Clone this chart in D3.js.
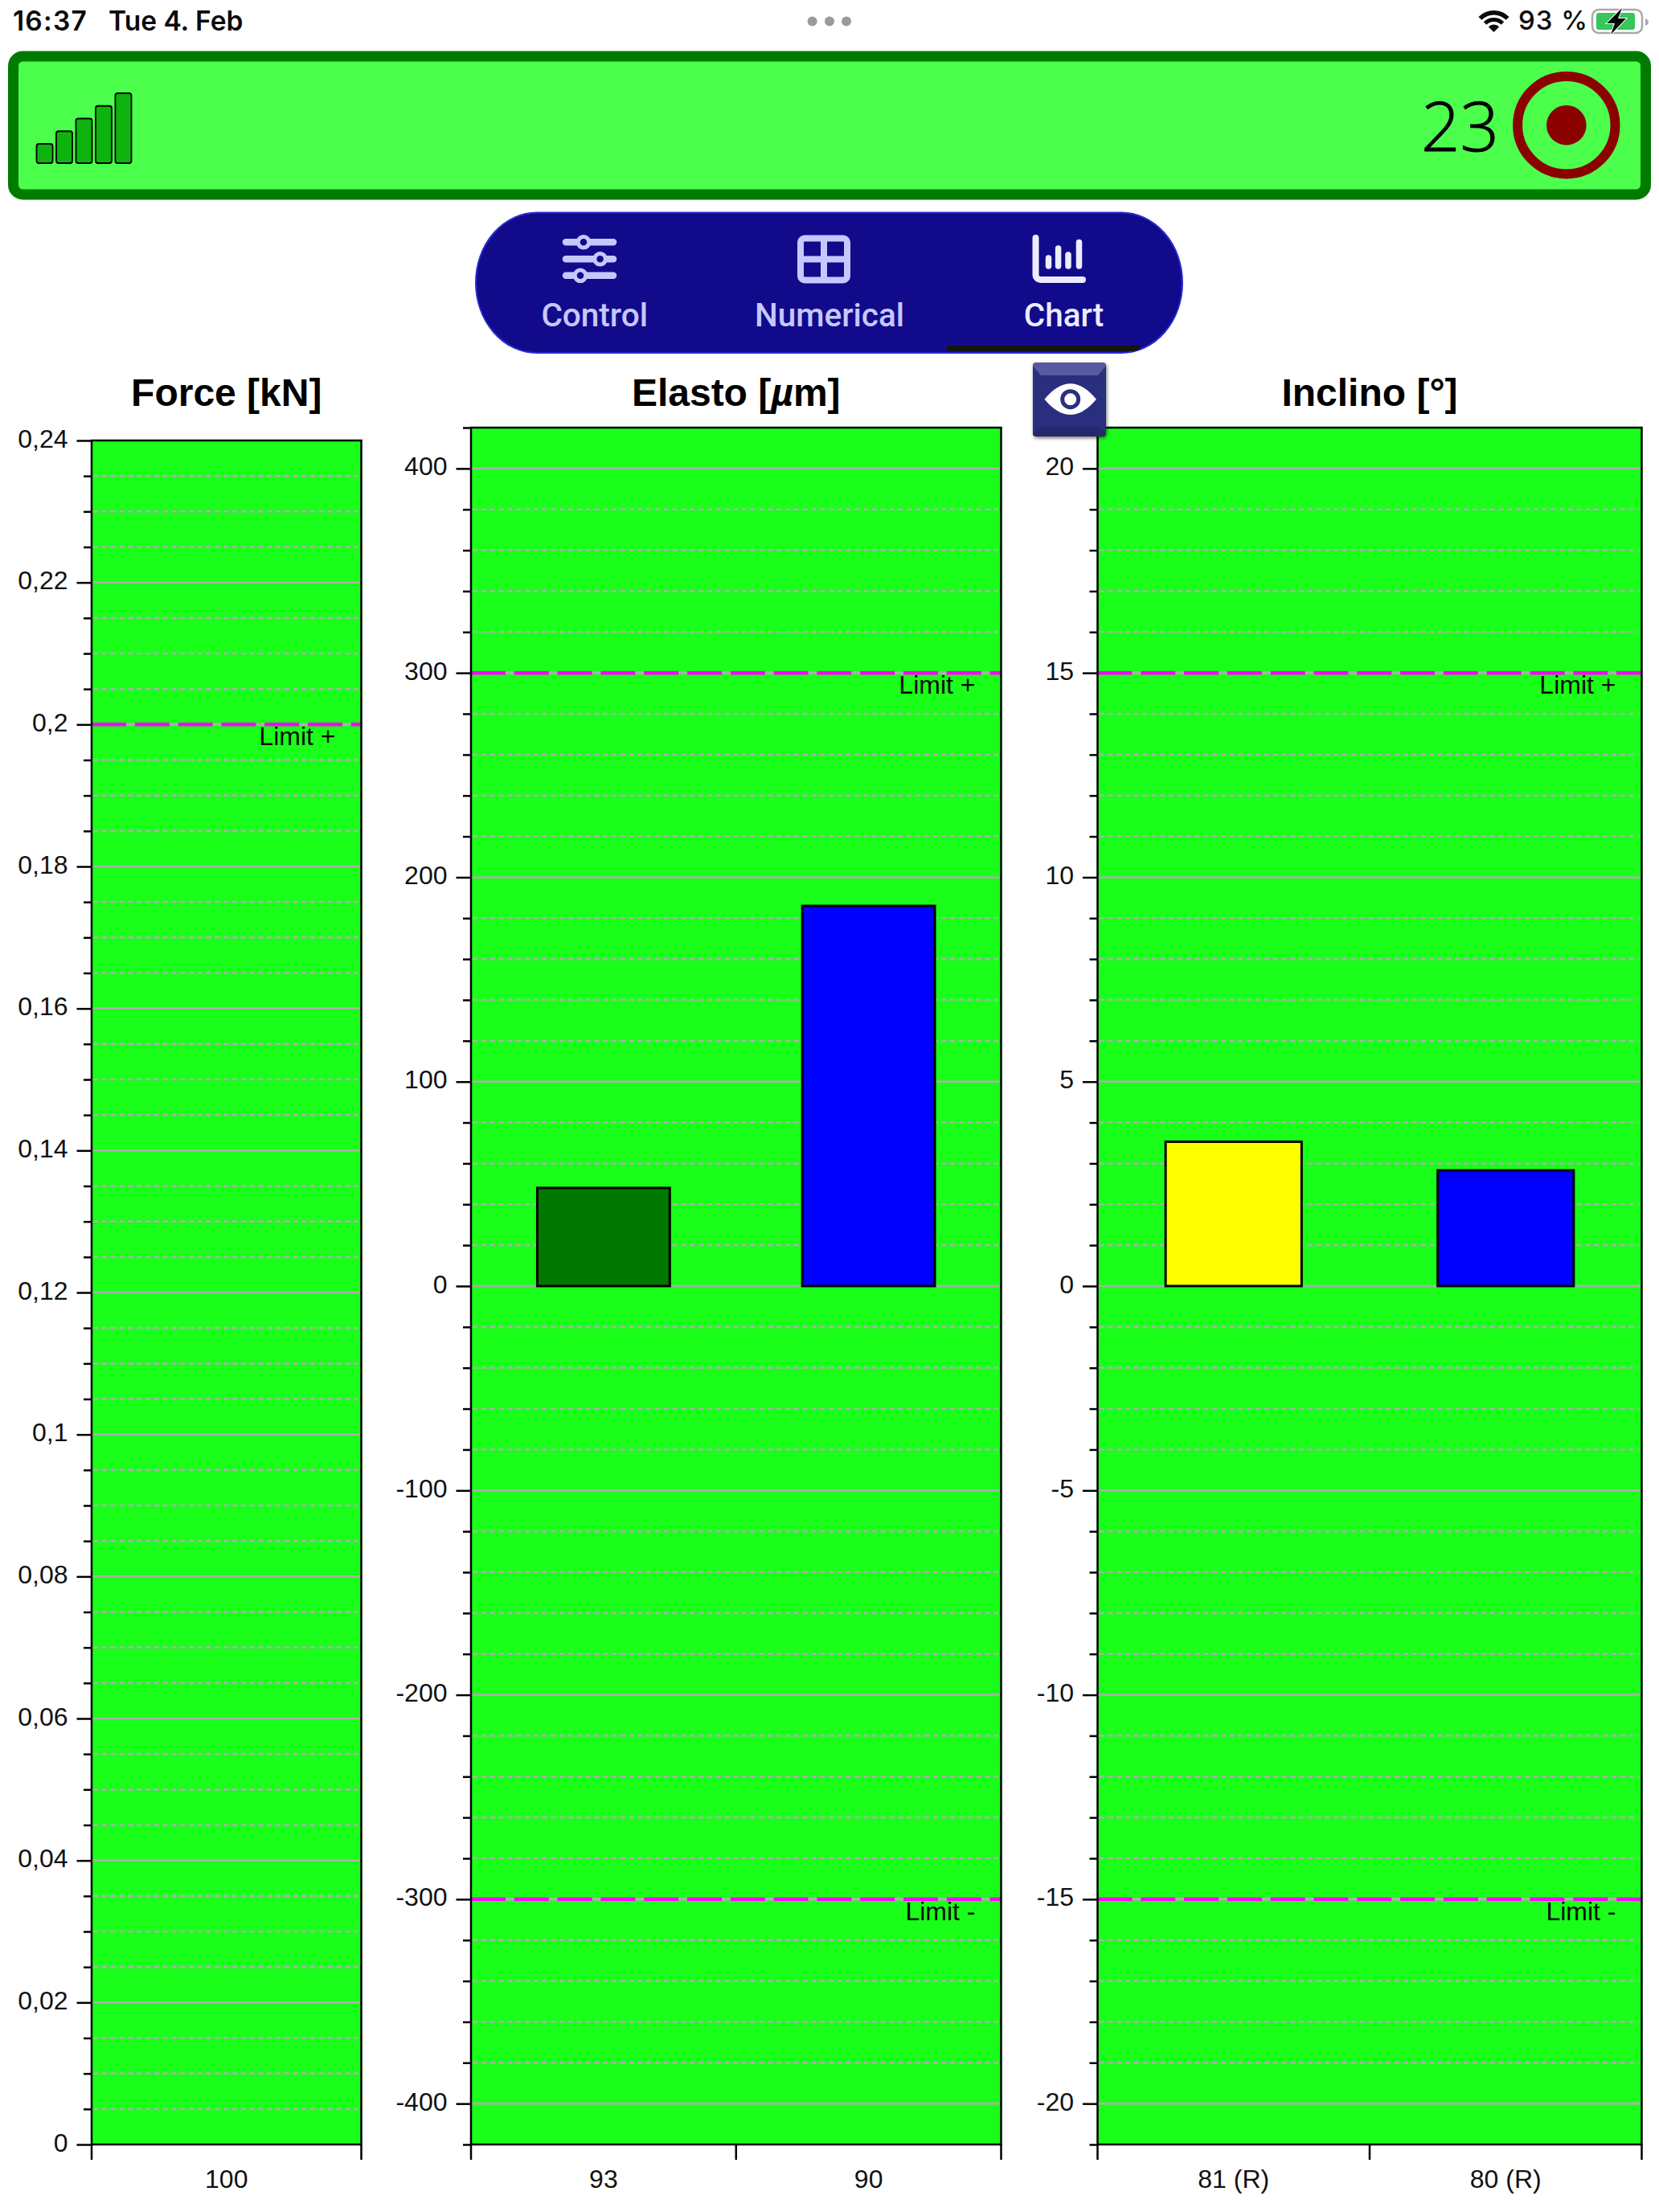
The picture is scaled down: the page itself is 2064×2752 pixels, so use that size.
<!DOCTYPE html>
<html lang="en">
<head>
<meta charset="utf-8">
<title>Measurement chart</title>
<script src="https://cdn.jsdelivr.net/npm/d3@7/dist/d3.min.js"></script>
<style>
  html, body { margin: 0; padding: 0; background: #fff; }
  svg { display: block; }
  text { font-family: "Liberation Sans", Arial, sans-serif; }
  .status { font-family: Inter, sans-serif; font-weight: 600; font-size: 33.5px; fill: #0b0b0b; }
  .tab { font-family: Roboto, sans-serif; font-weight: 500; font-size: 40.5px; text-anchor: middle; }
</style>
</head>
<body>
<svg id="screen" width="2064" height="2752" viewBox="0 0 2064 2752"></svg>
<script>
// Measured channels per panel
const forceCategories = ["100"];
const forceValues = [0];
const forceColors = ["#007800"];
const forceMajorTicks = [0, 0.02, 0.04, 0.06, 0.08, 0.1, 0.12, 0.14, 0.16, 0.18, 0.2, 0.22, 0.24];
const forceLimits = [{ value: 0.2, label: "Limit +" }];

const elastoCategories = ["93", "90"];
const elastoValues = [48, 186];
const elastoColors = ["#007800", "#0000ff"];
const elastoMajorTicks = [-400, -300, -200, -100, 0, 100, 200, 300, 400];
const elastoLimits = [{ value: 300, label: "Limit +" }, { value: -300, label: "Limit -" }];

const inclinoCategories = ["81 (R)", "80 (R)"];
const inclinoValues = [3.53, 2.83];
const inclinoColors = ["#ffff00", "#0000ff"];
const inclinoMajorTicks = [-20, -15, -10, -5, 0, 5, 10, 15, 20];
const inclinoLimits = [{ value: 15, label: "Limit +" }, { value: -15, label: "Limit -" }];

// Header and navigation content
const signalLevels = [1, 2, 3, 4, 5];
const tabLabels = ["Control", "Numerical", "Chart"];

const svg = d3.select("#screen");
const PLOT_GREEN = "#19ff19";
const GRID_GREY = "#adadad";
const FONT_SIZE = 32;
const localeFormat = d3.formatLocale({ decimal: ",", thousands: ".", grouping: [3], currency: ["", ""], minus: "-" }).format;

const panels = [
  {
    title: "Force [kN]", categories: forceCategories, values: forceValues, colors: forceColors,
    limits: forceLimits, major: forceMajorTicks, domain: [0, 0.24], minorStep: 0.005,
    format: localeFormat("~g"), left: 114, right: 449.5, top: 548, bottom: 2668
  },
  {
    title: "Elasto [µm]", categories: elastoCategories, values: elastoValues, colors: elastoColors,
    limits: elastoLimits, major: elastoMajorTicks, domain: [-420, 420], minorStep: 20,
    format: localeFormat("d"), left: 586, right: 1245.5, top: 532, bottom: 2668
  },
  {
    title: "Inclino [°]", categories: inclinoCategories, values: inclinoValues, colors: inclinoColors,
    limits: inclinoLimits, major: inclinoMajorTicks, domain: [-21, 21], minorStep: 1,
    format: localeFormat("d"), left: 1365.5, right: 2042.5, top: 532, bottom: 2668
  }
];

panels.forEach(drawPanel);

function drawPanel(p) {
  const y = d3.scaleLinear().domain(p.domain).range([p.bottom, p.top]);
  const x = d3.scaleBand().domain(p.categories).range([p.left, p.right]);
  const g = svg.append("g");
  const isMajor = v => p.major.some(m => Math.abs(m - v) < p.minorStep / 100);
  const minor = d3.range(0, Math.round((p.domain[1] - p.domain[0]) / p.minorStep) + 1)
    .map(i => p.domain[0] + i * p.minorStep)
    .filter(v => !isMajor(v));
  const inner = minor.filter(v => y(v) > p.top + 1 && y(v) < p.bottom - 1);

  g.append("rect")
    .attr("x", p.left).attr("y", p.top)
    .attr("width", p.right - p.left).attr("height", p.bottom - p.top)
    .attr("fill", PLOT_GREEN);

  // Grid: dotted between the labelled values, solid on them
  g.append("g").selectAll("line").data(inner).join("line")
    .attr("x1", p.left + 2).attr("x2", p.right - 4)
    .attr("y1", y).attr("y2", y)
    .attr("stroke", GRID_GREY).attr("stroke-width", 2.6).attr("stroke-dasharray", "6.5 4.3");
  g.append("g").selectAll("line").data(p.major.filter(v => y(v) > p.top + 1 && y(v) < p.bottom - 1)).join("line")
    .attr("x1", p.left).attr("x2", p.right)
    .attr("y1", y).attr("y2", y)
    .attr("stroke", GRID_GREY).attr("stroke-width", 2.6);

  // Tolerance lines and their captions
  const limitG = g.append("g");
  limitG.selectAll("line.base").data(p.limits).join("line")
    .attr("class", "base")
    .attr("x1", p.left).attr("x2", p.right)
    .attr("y1", d => y(d.value)).attr("y2", d => y(d.value))
    .attr("stroke", GRID_GREY).attr("stroke-width", 3.5);
  limitG.selectAll("line.dash").data(p.limits).join("line")
    .attr("class", "dash")
    .attr("x1", p.left).attr("x2", p.right)
    .attr("y1", d => y(d.value)).attr("y2", d => y(d.value))
    .attr("stroke", "#ff00ff").attr("stroke-width", 4.5).attr("stroke-dasharray", "43 10.8");

  // Bars
  const barWidth = x.bandwidth() * 0.5;
  g.append("g").selectAll("rect")
    .data(p.categories.map((c, i) => ({ c, v: p.values[i], color: p.colors[i] })).filter(d => d.v !== 0))
    .join("rect")
    .attr("x", d => x(d.c) + (x.bandwidth() - barWidth) / 2)
    .attr("width", barWidth)
    .attr("y", d => y(d.v))
    .attr("height", d => y(0) - y(d.v))
    .attr("fill", d => d.color)
    .attr("stroke", "#000").attr("stroke-width", 3);

  limitG.selectAll("text").data(p.limits).join("text")
    .attr("x", p.right - 32)
    .attr("y", d => y(d.value) + 26)
    .attr("text-anchor", "end").attr("font-size", FONT_SIZE).attr("fill", "#0a0a0a")
    .text(d => d.label);

  // Frame
  g.append("rect")
    .attr("x", p.left).attr("y", p.top)
    .attr("width", p.right - p.left).attr("height", p.bottom - p.top)
    .attr("fill", "none").attr("stroke", "#000").attr("stroke-width", 2.5);

  // Left axis: long ticks with labels, short ticks without
  const minorAxis = d3.axisLeft(y).tickValues(minor).tickSize(10).tickFormat("");
  const minorG = g.append("g").attr("transform", `translate(${p.left},0)`).call(minorAxis);
  minorG.select(".domain").remove();
  minorG.selectAll(".tick line").attr("stroke", "#000").attr("stroke-width", 2.5);

  const majorAxis = d3.axisLeft(y).tickValues(p.major).tickSize(18.5).tickPadding(11).tickFormat(p.format);
  const majorG = g.append("g").attr("transform", `translate(${p.left},0)`).call(majorAxis);
  majorG.select(".domain").remove();
  majorG.selectAll(".tick line").attr("stroke", "#000").attr("stroke-width", 2.5);
  majorG.selectAll(".tick text")
    .attr("font-size", FONT_SIZE).attr("font-family", "Liberation Sans").attr("fill", "#111")
    .attr("dy", null).attr("y", 8);

  // Bottom axis: ticks mark the edges of each channel's band
  const edges = p.categories.map(c => x(c)).concat([p.right]);
  g.append("g").selectAll("line").data(edges).join("line")
    .attr("x1", d => d).attr("x2", d => d)
    .attr("y1", p.bottom).attr("y2", p.bottom + 19)
    .attr("stroke", "#000").attr("stroke-width", 2.5);
  g.append("g").selectAll("text").data(p.categories).join("text")
    .attr("x", c => x(c) + x.bandwidth() / 2)
    .attr("y", p.bottom + 54)
    .attr("text-anchor", "middle").attr("font-size", FONT_SIZE).attr("fill", "#111")
    .text(c => c);

  // Title, with the Greek letter set in italics
  const title = g.append("text")
    .attr("x", (p.left + p.right) / 2).attr("y", 505)
    .attr("text-anchor", "middle").attr("font-size", 48).attr("font-weight", 700).attr("fill", "#000");
  p.title.split(/(µ)/).forEach(part => {
    title.append("tspan").attr("font-style", part === "µ" ? "italic" : "normal").text(part);
  });
}

// Status bar
svg.append("text").attr("class", "status").attr("x", 16).attr("y", 37.5).style("letter-spacing", "1.2px").text("16:37");
svg.append("text").attr("class", "status").attr("x", 135).attr("y", 37.5).text("Tue 4. Feb");
svg.append("g").selectAll("circle").data([1010.6, 1032, 1053]).join("circle")
  .attr("cx", d => d).attr("cy", 26.5).attr("r", 6).attr("fill", "#9a9a9a");
const wifiArc = d3.arc().startAngle(-Math.PI / 4).endAngle(Math.PI / 4);
svg.append("g").attr("transform", "translate(1858.5,40)").selectAll("path")
  .data([[0, 9.5], [13, 18], [21.5, 27]]).join("path")
  .attr("d", d => wifiArc({ innerRadius: d[0], outerRadius: d[1] }))
  .attr("fill", "#0b0b0b");
svg.append("text").attr("class", "status").attr("x", 1889).attr("y", 36.7)
  .style("font-weight", 500).style("font-size", "33px").style("letter-spacing", "1px").text("93 %");
const battery = svg.append("g");
battery.append("rect").attr("x", 1981).attr("y", 12).attr("width", 62).attr("height", 29).attr("rx", 8)
  .attr("fill", "none").attr("stroke", "#a9a9a9").attr("stroke-width", 2.5);
battery.append("rect").attr("x", 1986).attr("y", 16).attr("width", 48).attr("height", 21).attr("rx", 3).attr("fill", "#34c759");
battery.append("path").attr("d", "M2047,23 a6,5 0 0 1 4,4.5 a6,5 0 0 1 -4,4.5 z").attr("fill", "#a9a9a9");
battery.append("path").attr("d", "M2018,10 L1999,29 L2009,29 L2004,43 L2023,23 L2013,23 Z")
  .attr("fill", "#000").attr("stroke", "#fff").attr("stroke-width", 2).attr("paint-order", "stroke");

// Status banner
const banner = svg.append("g");
banner.append("rect").attr("x", 16.5).attr("y", 70).attr("width", 2031).attr("height", 172).attr("rx", 12)
  .attr("fill", "#4dff4d").attr("stroke", "#007b00").attr("stroke-width", 13);

const signalX = d3.scaleBand().domain(signalLevels).range([45.5, 163.5]).paddingInner(0.18);
const signalH = d3.scaleLinear().domain([1, 5]).range([24, 87]);
banner.append("g").selectAll("rect").data(signalLevels).join("rect")
  .attr("x", d => signalX(d))
  .attr("width", signalX.bandwidth())
  .attr("y", d => 203 - signalH(d))
  .attr("height", d => signalH(d))
  .attr("rx", 3)
  .attr("fill", "#0eb30e").attr("stroke", "#000").attr("stroke-width", 1.8);

banner.append("text").attr("x", 1865).attr("y", 188).attr("text-anchor", "end")
  .attr("font-size", 85).attr("fill", "#000").attr("stroke", "#000").attr("stroke-width", 1)
  .style("font-family", "'Open Sans'").style("font-weight", 300).text("23");
banner.append("circle").attr("cx", 1948.8).attr("cy", 155.7).attr("r", 60.7)
  .attr("fill", "none").attr("stroke", "#8b0000").attr("stroke-width", 12);
banner.append("circle").attr("cx", 1948.8).attr("cy", 155.7).attr("r", 24.8).attr("fill", "#8b0000");

// Navigation pill
const defs = svg.append("defs");
defs.append("clipPath").attr("id", "pillClip").append("rect")
  .attr("x", 592).attr("y", 264.5).attr("width", 879).attr("height", 174.5).attr("rx", 76).attr("ry", 87);
const nav = svg.append("g");
nav.append("rect").attr("x", 592).attr("y", 264.5).attr("width", 879).attr("height", 174.5).attr("rx", 76).attr("ry", 87)
  .attr("fill", "#110b8b").attr("stroke", "#2b2bd6").attr("stroke-width", 2);
nav.append("rect").attr("x", 1178).attr("y", 430).attr("width", 240).attr("height", 7)
  .attr("fill", "#141414").attr("clip-path", "url(#pillClip)");

const tabCenters = [739.7, 1032, 1323.5];
const tabColors = ["#c7c7ff", "#c7c7ff", "#ecECff"];
nav.selectAll("text").data(tabLabels).join("text")
  .attr("class", "tab")
  .attr("x", (d, i) => tabCenters[i]).attr("y", 406)
  .attr("fill", (d, i) => tabColors[i])
  .text(d => d);

const ICON = "#c7c7ff";
// Sliders glyph
const sliders = nav.append("g");
[[301.3, 726], [322.3, 746.6], [342.8, 722]].forEach(([cy, cx]) => {
  sliders.append("line").attr("x1", 704).attr("x2", 763).attr("y1", cy).attr("y2", cy)
    .attr("stroke", ICON).attr("stroke-width", 8.5).attr("stroke-linecap", "round");
  sliders.append("circle").attr("cx", cx).attr("cy", cy).attr("r", 6.8)
    .attr("fill", "#110b8b").attr("stroke", ICON).attr("stroke-width", 5);
});
// Grid glyph
const gridIcon = nav.append("g").attr("fill", "none").attr("stroke", ICON).attr("stroke-width", 8);
gridIcon.append("rect").attr("x", 996).attr("y", 296.5).attr("width", 58).attr("height", 52).attr("rx", 5);
gridIcon.append("path").attr("d", "M1025,296.5 V348.5 M996,322.5 H1054");
// Chart glyph
const chartIcon = nav.append("g");
chartIcon.append("path").attr("d", "M1288.5,296 V342 a6,6 0 0 0 6,6 H1347")
  .attr("fill", "none").attr("stroke", "#ecECff").attr("stroke-width", 8).attr("stroke-linecap", "round");
chartIcon.selectAll("line").data([[1304.5, 318], [1316.6, 306], [1329, 314], [1342.5, 298.5]]).join("line")
  .attr("x1", d => d[0]).attr("x2", d => d[0])
  .attr("y1", d => d[1] + 3).attr("y2", 331)
  .attr("stroke", "#ecECff").attr("stroke-width", 7.5).attr("stroke-linecap", "round");

// Visibility toggle button, sitting over the corner of the third panel
const shadow = defs.append("filter").attr("id", "btnShadow").attr("x", "-20%").attr("y", "-20%").attr("width", "140%").attr("height", "140%");
shadow.append("feDropShadow").attr("dx", 1).attr("dy", 2).attr("stdDeviation", 2).attr("flood-color", "#000").attr("flood-opacity", 0.55);
const btn = svg.append("g");
btn.append("rect").attr("x", 1285).attr("y", 451).attr("width", 91).attr("height", 92).attr("rx", 4.5)
  .attr("fill", "#2b2f7e").attr("filter", "url(#btnShadow)");
btn.append("path").attr("d", "M1285,455 a4,4 0 0 1 4,-4 H1372 a4,4 0 0 1 4,4 L1366,467 H1295 Z").attr("fill", "#565ba0");
btn.append("path").attr("d", "M1285,539 a4,4 0 0 0 4,4 H1372 a4,4 0 0 0 4,-4 L1366,531 H1295 Z").attr("fill", "#23276c");
btn.append("path").attr("d", "M1299.5,496.7 Q1331.7,458 1363.9,496.7 Q1331.7,535.4 1299.5,496.7 Z").attr("fill", "#fff");
btn.append("circle").attr("cx", 1331.7).attr("cy", 496.7).attr("r", 10).attr("fill", "#fff").attr("stroke", "#2b2f7e").attr("stroke-width", 5);
</script>
</body>
</html>
